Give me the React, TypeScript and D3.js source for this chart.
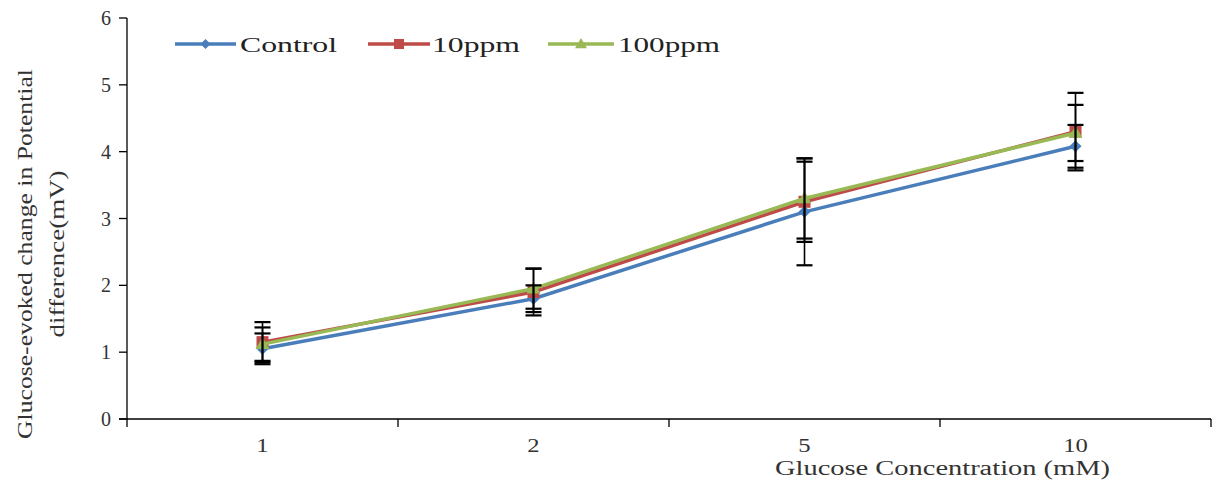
import React from "react";
import * as d3 from "d3";

const categories = ["1", "2", "5", "10"];
const controlValues = [1.05, 1.8, 3.1, 4.08];
const ppm10Values = [1.15, 1.9, 3.25, 4.3];
const ppm100Values = [1.12, 1.95, 3.3, 4.28];
const controlErr = [0.23, 0.2, 0.8, 0.32];
const ppm10Err = [0.3, 0.35, 0.6, 0.58];
const ppm100Err = [0.25, 0.3, 0.6, 0.42];
const yTicks = [0, 1, 2, 3, 4, 5, 6];

const series = [
  { name: "Control", values: controlValues, err: controlErr, color: "#4a7ebb", marker: "diamond" },
  { name: "10ppm", values: ppm10Values, err: ppm10Err, color: "#be4b48", marker: "square" },
  { name: "100ppm", values: ppm100Values, err: ppm100Err, color: "#98b954", marker: "triangle" },
];

const W = 1215, H = 486;
const left = 127, right = 1211, top = 18, bottom = 419;

function Marker({ type, x, y, color, s = 6 }: { type: string; x: number; y: number; color: string; s?: number }) {
  if (type === "diamond") {
    return <path d={`M${x},${y - s}L${x + s},${y}L${x},${y + s}L${x - s},${y}Z`} fill={color} />;
  }
  if (type === "square") {
    return <rect x={x - s} y={y - s} width={2 * s} height={2 * s} fill={color} />;
  }
  const t = s + 1;
  return <path d={`M${x},${y - t}L${x + t},${y + t * 0.7}L${x - t},${y + t * 0.7}Z`} fill={color} />;
}

export default function App() {
  const x = d3.scaleBand<string>().domain(categories).range([left, right]);
  const y = d3.scaleLinear().domain([0, 6]).range([bottom, top]);
  const cx = (c: string) => (x(c) as number) + x.bandwidth() / 2;
  const line = d3
    .line<number>()
    .x((_, i) => cx(categories[i]))
    .y((d) => y(d));
  const font = "'Liberation Serif', 'Times New Roman', serif";
  const boundaries = [...categories.map((c) => x(c) as number), right];
  const legendItems = [
    { s: series[0], x0: 175, x1: 236, tx: 240, tl: 97 },
    { s: series[1], x0: 368, x1: 430, tx: 432, tl: 88 },
    { s: series[2], x0: 548, x1: 614, tx: 618, tl: 102 },
  ];
  return (
    <svg
      width={W}
      height={H}
      fontFamily={font}
      style={{ position: "absolute", left: 0, top: 0, background: "#fff" }}
    >
      {/* Y axis */}
      <line x1={left} x2={left} y1={top} y2={bottom} stroke="#000" strokeWidth={1.3} />
      {yTicks.map((t) => (
        <g key={t}>
          <line x1={left - 8} x2={left} y1={y(t)} y2={y(t)} stroke="#000" strokeWidth={1.3} />
          <text x={left - 16} y={y(t)} dy="0.35em" textAnchor="end" fontSize={20} fill="#333" fontFamily={font}>
            {t}
          </text>
        </g>
      ))}
      {/* X axis */}
      <line x1={left - 8} x2={right} y1={bottom} y2={bottom} stroke="#000" strokeWidth={1.3} />
      {boundaries.map((b, i) => (
        <line key={i} x1={b} x2={b} y1={bottom} y2={bottom + 8} stroke="#000" strokeWidth={1.3} />
      ))}
      {categories.map((c) => (
        <text
          key={c}
          transform={`translate(${cx(c)},452) scale(1.3,1)`}
          textAnchor="middle"
          fontSize={19}
          fill="#333"
          fontFamily={font}
        >
          {c}
        </text>
      ))}
      <text x={775} y={475} fontSize={20} fill="#333" fontFamily={font} textLength={335} lengthAdjust="spacingAndGlyphs">
        Glucose Concentration (mM)
      </text>
      <g transform="translate(0,254) rotate(-90)">
        <text x={0} y={32} textAnchor="middle" fontSize={22} fill="#333" fontFamily={font} textLength={370} lengthAdjust="spacingAndGlyphs">
          Glucose-evoked change in Potential
        </text>
        <text x={0} y={64} textAnchor="middle" fontSize={22} fill="#333" fontFamily={font} textLength={167} lengthAdjust="spacingAndGlyphs">
          difference(mV)
        </text>
      </g>
      {/* Lines and markers */}
      {series.map((s) => (
        <g key={s.name}>
          <path d={line(s.values) as string} fill="none" stroke={s.color} strokeWidth={3.5} />
          {s.values.map((v, i) => (
            <Marker key={i} type={s.marker} x={cx(categories[i])} y={y(v)} color={s.color} />
          ))}
        </g>
      ))}
      {/* Error bars */}
      {series.map((s) =>
        s.values.map((v, i) => {
          const px = cx(categories[i]);
          const hi = y(v + s.err[i]);
          const lo = y(v - s.err[i]);
          return (
            <g key={s.name + i} stroke="#000" strokeWidth={1.6}>
              <line x1={px} x2={px} y1={hi} y2={lo} />
              <line x1={px - 8} x2={px + 8} y1={hi} y2={hi} strokeWidth={2.2} />
              <line x1={px - 8} x2={px + 8} y1={lo} y2={lo} strokeWidth={2.2} />
            </g>
          );
        })
      )}
      {/* Legend */}
      {legendItems.map(({ s, x0, x1, tx, tl }) => (
        <g key={s.name}>
          <line x1={x0} x2={x1} y1={44} y2={44} stroke={s.color} strokeWidth={3.5} />
          <Marker type={s.marker} x={(x0 + x1) / 2} y={44} color={s.color} s={5} />
          <text x={tx} y={52} fontSize={21} fill="#222" fontFamily={font} textLength={tl} lengthAdjust="spacingAndGlyphs">
            {s.name}
          </text>
        </g>
      ))}
    </svg>
  );
}
